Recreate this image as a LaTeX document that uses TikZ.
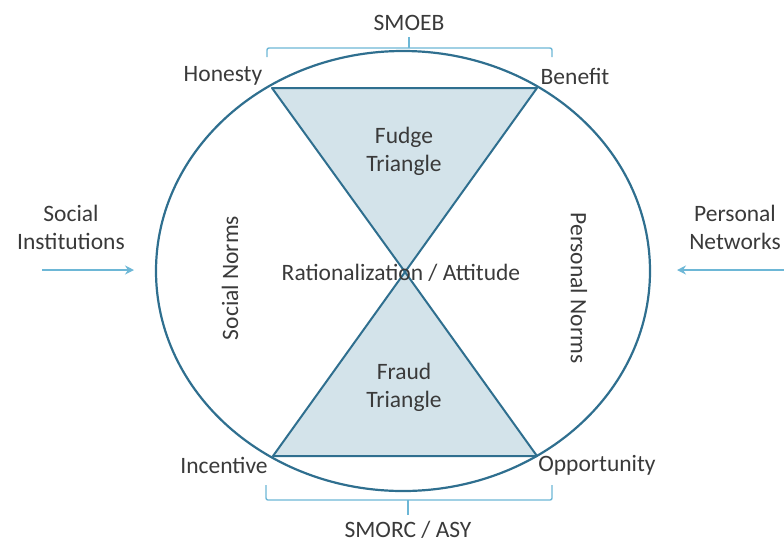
\documentclass[tikz,border=0pt]{standalone}
\usepackage{fontspec}
\setmainfont{Carlito}
\usetikzlibrary{arrows.meta}
\definecolor{rimblue}{HTML}{2F6F8F}
\definecolor{fillblue}{HTML}{D3E3EA}
\definecolor{lightblue}{HTML}{6DB7D6}
\definecolor{txtgray}{HTML}{3A3A3A}
\begin{document}
\begin{tikzpicture}[x=1pt,y=-1pt,
  lbl/.style={text=txtgray,font=\fontsize{23.5}{28}\selectfont,inner sep=1pt,align=center},
  rim/.style={draw=rimblue,line width=2.2pt},
  brace/.style={draw=lightblue,line width=1.4pt,rounded corners=2pt},
  flow/.style={draw=lightblue,line width=1.4pt,-{Stealth[length=9pt,width=9pt,inset=3pt]}}]
\useasboundingbox (0,0) rectangle (784,547);

%Corner points
\coordinate (hon) at (272,88);
\coordinate (ben) at (537,88);
\coordinate (inc) at (273,456);
\coordinate (opp) at (537,456);
\coordinate (mid) at (405,272);

%Draw Triangles
\fill[fillblue] (hon) -- (ben) -- (mid) -- cycle;
\fill[fillblue] (inc) -- (opp) -- (mid) -- cycle;
\draw[rim,line width=2pt,line join=round] (hon) -- (ben) -- (mid) -- cycle;
\draw[rim,line width=2pt,line join=round] (inc) -- (opp) -- (mid) -- cycle;

%Draw Circle
\draw[rim] (403,271) ellipse (247 and 220);

%Corner Labels
\node[lbl] (honesty) at (223,76) {Honesty};
\node[lbl] (benefit) at (575,76) {Benefit};
\node[lbl] (incentive) at (224,465) {Incentive};
\node[lbl] (opportunity) at (597,465) {Opportunity};

%Inner Labels
\node[lbl] (fudge) at (404,151) {Fudge\\Triangle};
\node[lbl] (fraud) at (404,387) {Fraud\\Triangle};
\node[lbl] (ratio) at (401,273) {Rationalization / Attitude};
\node[lbl,rotate=90] (socnorm) at (230,278) {Social Norms};
\node[lbl,rotate=-90] (pernorm) at (579,288) {Personal Norms};

%Draw Braces
\node[lbl] (smoeb) at (409,23) {SMOEB};
\draw[brace] (267,57) -- (267,48) -- (552,48) -- (552,57);
\draw[brace] (409,48) -- (409,37);
\node[lbl] (smorc) at (408,530) {SMORC / ASY};
\draw[brace] (266,485) -- (266,500) -- (552,500) -- (552,485);
\draw[brace] (408,500) -- (408,515);

%Outside Influences
\node[lbl] (social) at (71,227) {Social\\Institutions};
\node[lbl] (personal) at (735,227) {Personal\\Networks};
\coordinate (socstart) at (42,270);
\coordinate (socend) at (134,270);
\coordinate (perstart) at (784,270);
\coordinate (perend) at (677,270);
\draw[flow] (socstart) -- (socend);
\draw[flow] (perstart) -- (perend);

\end{tikzpicture}
\end{document}
